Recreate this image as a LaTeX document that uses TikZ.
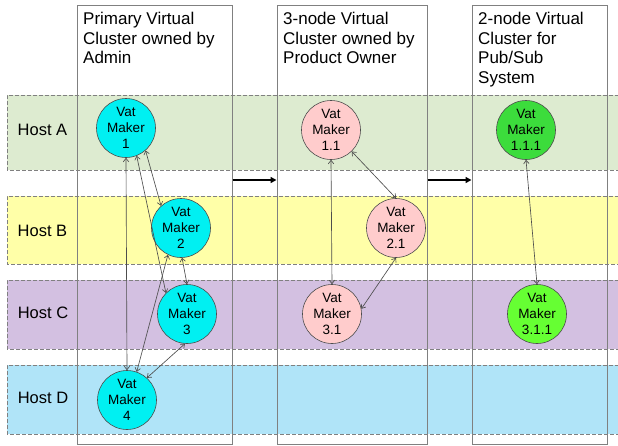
\documentclass[tikz,border=0pt]{standalone}
\usepackage{fontspec}
\setmainfont{Liberation Sans}
\usetikzlibrary{arrows.meta}

\definecolor{bandA}{HTML}{DDEBD0}
\definecolor{bandB}{HTML}{FFFFA8}
\definecolor{bandC}{HTML}{D3C0E1}
\definecolor{bandD}{HTML}{B0E4F8}
\definecolor{vmcyan}{HTML}{00F0F2}
\definecolor{vmpink}{HTML}{FFCCCC}
\definecolor{vmgreen}{HTML}{3CDC3C}
\definecolor{vmlime}{HTML}{66FF33}
\definecolor{edgegray}{HTML}{808080}
\definecolor{linkgray}{HTML}{4D4D4D}

\tikzset{
  hostband/.style={draw=edgegray, line width=0.9pt, dash pattern=on 4pt off 2pt},
  hostlabel/.style={font=\fontsize{16.5}{19}\selectfont, inner sep=0pt},
  colbox/.style={draw=edgegray, line width=1pt, inner sep=0pt},
  coltitle/.style={font=\fontsize{17}{19.5}\selectfont, align=left, anchor=north west, inner sep=0pt},
  vm/.style={circle, draw=linkgray, line width=0.6pt, minimum size=59pt, inner sep=0pt,
             align=center, font=\fontsize{13.5}{16}\selectfont},
  link/.style={draw=linkgray, line width=0.65pt,
               {Straight Barb[length=3.5pt,width=5.5pt]}-{Straight Barb[length=3.5pt,width=5.5pt]}},
  flow/.style={draw=black, line width=1.6pt, -{Triangle[length=6pt,width=6pt]}}
}

\begin{document}
\begin{tikzpicture}[x=1pt, y=-1pt]
\useasboundingbox (0,0) rectangle (618,445);
\clip (0,0) rectangle (618,445);

% host bands
\fill[bandA] (7,95) rectangle (625,170);
\fill[bandB] (7,196) rectangle (625,264);
\fill[bandC] (7,280) rectangle (625,349);
\fill[bandD] (7,365) rectangle (625,434);
\draw[hostband] (625,95) -- (7,95) -- (7,170) -- (625,170);
\draw[hostband] (625,196) -- (7,196) -- (7,264) -- (625,264);
\draw[hostband] (625,280) -- (7,280) -- (7,349) -- (625,349);
\draw[hostband] (625,365) -- (7,365) -- (7,434) -- (625,434);

\node[hostlabel] (hA) at (42.5,130) {Host A};
\node[hostlabel] (hB) at (42.5,231) {Host B};
\node[hostlabel] (hC) at (43,313) {Host C};
\node[hostlabel] (hD) at (43,398) {Host D};

% virtual cluster columns
\node[colbox, minimum width=155pt, minimum height=439pt] (c1) at (154.5,224.5) {};
\node[colbox, minimum width=150pt, minimum height=439pt] (c2) at (352,224.5) {};
\node[colbox, minimum width=135pt, minimum height=439pt] (c3) at (539.5,224.5) {};

\node[coltitle] (t1) at (83,12.3) {Primary Virtual\\Cluster owned by\\Admin};
\node[coltitle] (t2) at (283,12.3) {3-node Virtual\\Cluster owned by\\Product Owner};
\node[coltitle] (t3) at (478,12.3) {2-node Virtual\\Cluster for\\Pub/Sub\\System};

% derivation arrows between clusters
\coordinate (flowy) at (0,180);
\draw[flow] (c1.east |- flowy) -- (c2.west |- flowy);
\draw[flow] (c2.east |- flowy) -- (c3.west |- flowy);

% vat makers
\node[vm, fill=vmcyan] (vm1) at (126,128) {Vat\\Maker\\1};
\node[vm, fill=vmcyan] (vm2) at (181,228) {Vat\\Maker\\2};
\node[vm, fill=vmcyan] (vm3) at (187,314) {Vat\\Maker\\3};
\node[vm, fill=vmcyan] (vm4) at (127,400) {Vat\\Maker\\4};

\node[vm, fill=vmpink] (vm11) at (331,130) {Vat\\Maker\\1.1};
\node[vm, fill=vmpink] (vm21) at (396,228) {Vat\\Maker\\2.1};
\node[vm, fill=vmpink] (vm31) at (332,314) {Vat\\Maker\\3.1};

\node[vm, fill=vmgreen] (vm111) at (526,130) {Vat\\Maker\\1.1.1};
\node[vm, fill=vmlime] (vm311) at (537,314) {Vat\\Maker\\3.1.1};

% links
\draw[link] (vm1.-90) -- (vm4.90);
\draw[link] (vm1.-69) -- (vm3.135);
\draw[link] (vm1.-49) -- (vm2.132);
\draw[link] (vm2.-116) -- (vm4.71);
\draw[link] (vm2.-88) -- (vm3.90);
\draw[link] (vm3.-94) -- (vm4.48);

\draw[link] (vm11.-90) -- (vm31.90);
\draw[link] (vm11.-46) -- (vm21.90);
\draw[link] (vm21.-90) -- (vm31.10);

\draw[link] (vm111.-90) -- (vm311.90);
\end{tikzpicture}
\end{document}
